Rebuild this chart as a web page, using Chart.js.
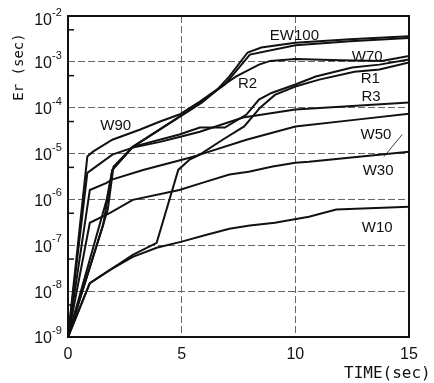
<!DOCTYPE html>
<html>
<head>
<meta charset="utf-8">
<script src="https://cdn.jsdelivr.net/npm/chart.js@4.4.1/dist/chart.umd.min.js"></script>
<style>
  html, body { margin: 0; padding: 0; background: #fff; }
  #wrap { width: 434px; height: 383px; }
</style>
</head>
<body>
<div id="wrap"><canvas id="chart" width="434" height="383"></canvas></div>
<script>
/* Er(sec) vs TIME(sec), log scale */

// ── data ─────────────────────────────────────────────
const tEW100 = [0, 1.55, 1.95, 2.85, 5.9, 6.5, 7.1, 7.9, 8.5, 10, 12.4, 15];
const eEW100 = [1e-9, 2.8e-7, 4.4e-6, 1.4e-5, 1.3e-4, 2.3e-4, 4.8e-4, 1.6e-3, 2.05e-3, 2.6e-3, 3.1e-3, 3.6e-3];

const tR2 = [0, 1.75, 2.0, 2.85, 5.5, 6.1, 6.9, 8.0, 10, 12.4, 15];
const eR2 = [1e-9, 6e-7, 5.2e-6, 1.4e-5, 1.0e-4, 1.66e-4, 3.2e-4, 1.44e-3, 2.3e-3, 2.8e-3, 3.3e-3];

const tW90 = [0, 0.85, 1.1, 1.95, 3.15, 4.05, 4.9, 5.8, 6.55, 7.4, 8.4, 8.9, 10, 12, 13.8, 15];
const eW90 = [1e-9, 8.6e-6, 1.1e-5, 2.0e-5, 3.3e-5, 5.0e-5, 7.1e-5, 1.36e-4, 2.5e-4, 4.8e-4, 8.7e-4, 1.05e-3, 1.15e-3, 1.08e-3, 1.05e-3, 1.35e-3];

const tW70 = [0, 0.85, 1.95, 2.85, 4.05, 4.9, 5.8, 7.7, 10, 15];
const eW70 = [1e-9, 3.8e-6, 9.5e-6, 1.35e-5, 1.8e-5, 2.3e-5, 3.0e-5, 6.1e-5, 9.1e-5, 1.3e-4];

const tR1 = [0, 1.7, 1.95, 2.85, 4.9, 5.8, 6.9, 7.85, 8.4, 8.95, 10, 10.9, 12.5, 13.7, 15];
const eR1 = [1e-9, 9.8e-7, 4.4e-6, 1.4e-5, 2.6e-5, 3.7e-5, 3.7e-5, 7.1e-5, 1.5e-4, 2.1e-4, 3.2e-4, 4.8e-4, 7.5e-4, 8.7e-4, 1.12e-3];

const tR3 = [0, 0.96, 1.85, 2.85, 3.9, 4.85, 5.35, 5.8, 6.8, 7.75, 8.45, 9.1, 10, 11.05, 12.6, 13.7, 15];
const eR3 = [1e-9, 1.5e-8, 2.9e-8, 6.2e-8, 1.13e-7, 4.4e-6, 7.4e-6, 9.5e-6, 2.0e-5, 3.9e-5, 1.0e-4, 1.9e-4, 2.9e-4, 4.1e-4, 6.1e-4, 6.8e-4, 9.7e-4];

const tW50 = [0, 0.96, 1.7, 1.93, 3.3, 5.35, 5.8, 7.85, 10, 12.7, 15];
const eW50 = [1e-9, 1.6e-6, 2.3e-6, 2.7e-6, 4.4e-6, 8.1e-6, 9.5e-6, 2.0e-5, 3.9e-5, 5.5e-5, 7.4e-5];

const tW30 = [0, 0.96, 1.85, 2.85, 4.9, 5.9, 7.1, 7.95, 9.0, 10.0, 10.6, 15];
const eW30 = [1e-9, 3.1e-7, 5.1e-7, 9.8e-7, 1.6e-6, 2.3e-6, 3.5e-6, 4.0e-6, 5.2e-6, 6.3e-6, 6.6e-6, 1.1e-5];

const tW10 = [0, 0.96, 1.85, 2.85, 3.9, 5.0, 6.1, 7.1, 8.0, 9.1, 10.6, 11.8, 15];
const eW10 = [1e-9, 1.5e-8, 2.9e-8, 5.6e-8, 8.8e-8, 1.2e-7, 1.7e-7, 2.3e-7, 2.7e-7, 3.1e-7, 4.2e-7, 6.0e-7, 6.9e-7];

const xTicks = [0, 5, 10, 15];
const yExps = [-9, -8, -7, -6, -5, -4, -3, -2];

// curve names and where they are written (t, Er)
const curveNames = ["EW100", "W70", "R2", "R1", "R3", "W50", "W30", "W10", "W90"];
const nameT = [9.96, 13.16, 7.9, 13.3, 13.33, 13.55, 13.64, 13.6, 2.1];
const nameE = [3.75e-3, 1.3e-3, 3.36e-4, 4.2e-4, 1.75e-4, 2.6e-5, 4.2e-6, 2.4e-7, 4.1e-5];

const zip = (ts, es) => ts.map((t, i) => ({ x: t, y: es[i] }));

const series = [
  ["EW100", tEW100, eEW100], ["R2", tR2, eR2], ["W90", tW90, eW90],
  ["W70", tW70, eW70], ["R1", tR1, eR1], ["R3", tR3, eR3],
  ["W50", tW50, eW50], ["W30", tW30, eW30], ["W10", tW10, eW10],
];

const FONT = "'Liberation Sans', Arial, sans-serif";
const MONO = "'DejaVu Sans Mono', monospace";

// ── text, frame and minor ticks ─────────────────────
const decorations = {
  id: "decorations",
  afterDraw(chart) {
    const { ctx, chartArea: a, scales: { x, y } } = chart;
    ctx.save();
    ctx.fillStyle = "#111";
    ctx.strokeStyle = "#111";

    // frame
    ctx.lineWidth = 2;
    ctx.strokeRect(a.left, a.top, a.right - a.left, a.bottom - a.top);

    // minor ticks at 5 x 10^n
    ctx.lineWidth = 1.5;
    yExps.slice(0, -1).forEach((n) => {
      const py = y.getPixelForValue(5 * Math.pow(10, n));
      ctx.beginPath();
      ctx.moveTo(a.left, py);
      ctx.lineTo(a.left + 6, py);
      ctx.stroke();
    });

    // y tick labels 10^n
    yExps.forEach((n) => {
      const py = y.getPixelForValue(Math.pow(10, n)) + (n === -2 ? 5 : 2);
      ctx.font = `16px ${FONT}`;
      ctx.textAlign = "right";
      ctx.textBaseline = "middle";
      ctx.fillText("10", 52, py);
      ctx.font = `11px ${FONT}`;
      ctx.textAlign = "left";
      ctx.fillText(String(n), 52, py - 8);
    });

    // x tick labels
    ctx.font = `16px ${FONT}`;
    ctx.textAlign = "center";
    ctx.textBaseline = "middle";
    xTicks.forEach((v) => ctx.fillText(String(v), x.getPixelForValue(v), 355));

    // axis titles
    ctx.font = `16px ${MONO}`;
    ctx.textAlign = "left";
    ctx.fillText("TIME(sec)", 344, 374);
    ctx.save();
    ctx.translate(19, 67);
    ctx.rotate(-Math.PI / 2);
    ctx.font = `14px ${MONO}`;
    ctx.textAlign = "center";
    ctx.fillText("Er (sec)", 0, 0);
    ctx.restore();

    // curve names
    ctx.font = `15px ${FONT}`;
    ctx.textAlign = "center";
    curveNames.forEach((s, i) => {
      ctx.fillText(s, x.getPixelForValue(nameT[i]), y.getPixelForValue(nameE[i]));
    });

    // leader from W30
    ctx.lineWidth = 0.8;
    ctx.beginPath();
    ctx.moveTo(x.getPixelForValue(14.7), y.getPixelForValue(2.6e-5));
    ctx.lineTo(x.getPixelForValue(13.9), y.getPixelForValue(8.6e-6));
    ctx.stroke();
    ctx.restore();
  },
};

new Chart(document.getElementById("chart"), {
  type: "line",
  data: {
    datasets: series.map(([name, ts, es]) => ({
      label: name,
      data: zip(ts, es),
      borderColor: "#111",
      borderWidth: 2,
      pointRadius: 0,
      tension: 0,
      fill: false,
    })),
  },
  options: {
    responsive: false,
    animation: false,
    devicePixelRatio: 1,
    layout: { padding: { left: 68, right: 25, top: 16, bottom: 46 } },
    plugins: { legend: { display: false }, tooltip: { enabled: false } },
    scales: {
      x: {
        type: "linear", min: 0, max: 15,
        afterBuildTicks: (s) => { s.ticks = xTicks.map((v) => ({ value: v })); },
        ticks: { display: false },
        grid: { color: "#666", lineWidth: 1, drawTicks: false },
        border: { display: false, dash: [7, 3] },
      },
      y: {
        type: "logarithmic", min: 1e-9, max: 1e-2,
        afterBuildTicks: (s) => { s.ticks = yExps.map((n) => ({ value: Math.pow(10, n) })); },
        ticks: { display: false },
        grid: { color: "#666", lineWidth: 1, drawTicks: false },
        border: { display: false, dash: [7, 3] },
      },
    },
  },
  plugins: [decorations],
});
</script>
</body>
</html>
